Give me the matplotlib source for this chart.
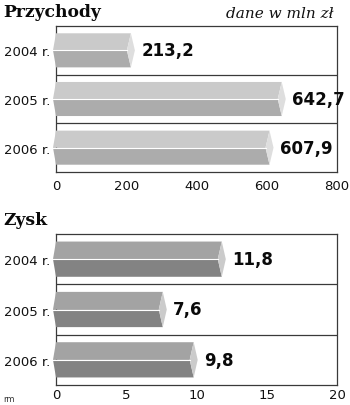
import numpy as np
import matplotlib.pyplot as plt

years = ['2004 r.', '2005 r.', '2006 r.']
przychody = [213.2, 642.7, 607.9]
zysk = [11.8, 7.6, 9.8]
przychody_ticks = [0, 200, 400, 600, 800]
zysk_ticks = [0, 5, 10, 15, 20]

fig = plt.figure(figsize=(3.5, 4.06), dpi=100)
W, H = 350, 406

def add_box(top, bottom):
    # box position in pixels (top/bottom measured from the top of the image)
    return fig.add_axes([56 / W, (H - bottom) / H, 281 / W, (bottom - top) / H])

def draw_panel(ax, values, ticks, colors, xpad):
    xmax = ticks[-1]
    ax.set_xlim(0, xmax)
    ax.set_ylim(2.5, -0.5)
    px = xmax / 281.0  # data units per pixel
    h = 0.35
    for i, v in enumerate(values):
        top, mid, bot = i - h, i, i + h
        upper = [(-3 * px, mid), (0, top), (v, top), (v - 4 * px, mid)]
        lower = [(-3 * px, mid), (0, bot), (v, bot), (v - 4 * px, mid)]
        cap = [(v, top), (v + 4 * px, mid), (v, bot), (v - 4 * px, mid)]
        ax.fill(*zip(*upper), color=colors[0], lw=0, clip_on=False, zorder=3)
        ax.fill(*zip(*lower), color=colors[1], lw=0, clip_on=False, zorder=3)
        ax.fill(*zip(*cap), color=colors[2], lw=0, clip_on=False, zorder=3)
        ax.plot([-3 * px, v - 4 * px], [mid, mid], color='white', lw=0.8,
                clip_on=False, zorder=4)
        ax.annotate(('%.1f' % v).replace('.', ','), (v, i), xytext=(7.5, 0),
                    textcoords='offset points', ha='left', va='center',
                    fontsize=12, fontweight='bold', color='#0a0a0a',
                    family='DejaVu Sans')
    for y in [0.5, 1.5]:
        ax.axhline(y, color='#3a3a3a', lw=0.9, zorder=2)
    for s in ax.spines.values():
        s.set_color('#3a3a3a')
        s.set_linewidth(0.9)
    ax.set_xticks(ticks)
    ax.set_xticklabels([str(t) for t in ticks])
    ax.set_yticks(range(len(years)))
    ax.set_yticklabels(years)
    ax.tick_params(axis='both', length=0, labelsize=9.5, colors='#111111')
    ax.tick_params(axis='x', pad=xpad)
    ax.tick_params(axis='y', pad=4)

ax1 = add_box(27, 173)
draw_panel(ax1, przychody, przychody_ticks, ['#cacaca', '#acacac', '#dedede'], 5)

ax2 = add_box(235, 386)
draw_panel(ax2, zysk, zysk_ticks, ['#a3a3a3', '#838383', '#cbcbcb'], 2)

fig.text(3 / W, (H - 17) / H, 'Przychody', family='DejaVu Serif',
         fontweight='bold', fontsize=12.3, va='baseline', ha='left', color='#0a0a0a')
fig.text(3 / W, (H - 225) / H, 'Zysk', family='DejaVu Serif',
         fontweight='bold', fontsize=12.3, va='baseline', ha='left', color='#0a0a0a')
fig.text(334 / W, (H - 18) / H, 'dane w mln zł', family='DejaVu Serif',
         style='italic', fontsize=11, va='baseline', ha='right', color='#111111')
fig.text(3 / W, (H - 402) / H, 'rm', fontsize=6, va='baseline', ha='left',
         color='#333333')

fig.savefig('out.png', dpi=100, facecolor='white')
